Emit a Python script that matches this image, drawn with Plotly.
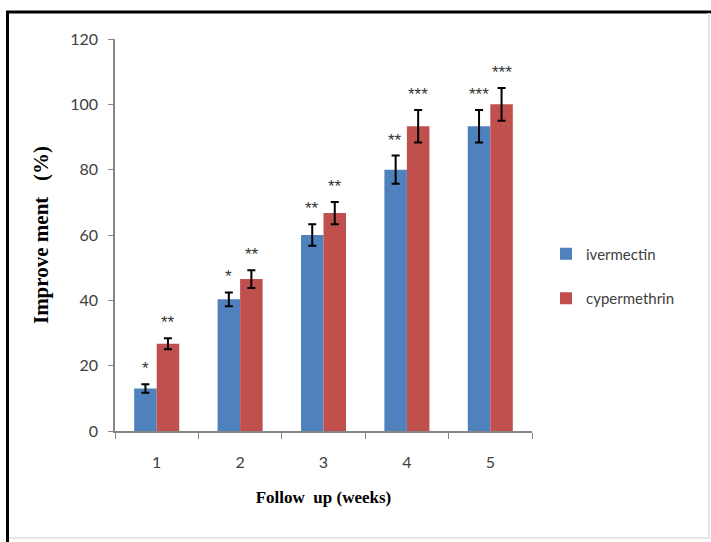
import plotly.graph_objects as go

weeks = ["1", "2", "3", "4", "5"]
ivermectin = [13.0, 40.3, 60.0, 80.0, 93.3]
ivermectin_err = [1.3, 2.1, 3.3, 4.3, 5.0]
cypermethrin = [26.7, 46.5, 66.7, 93.3, 100.0]
cypermethrin_err = [1.7, 2.7, 3.4, 5.0, 5.0]
iver_sig = ["*", "*", "**", "**", "***"]
cyper_sig = ["**", "**", "**", "***", "***"]

BLUE = "#4F81BD"
RED = "#C0504D"

W, H = 711, 542
L, R, T, B = 115, 179, 39, 111
PW, PH = W - L - R, H - T - B

def px_x(px):
    return (px - L) / PW

def px_y(py):
    return (H - B - py) / PH

fig = go.Figure()
fig.add_trace(go.Bar(
    x=weeks, y=ivermectin, name="ivermectin", marker_color=BLUE,
    marker_line_width=0, legendgroup="a",
    error_y=dict(type="data", array=ivermectin_err, visible=True,
                 color="black", thickness=2, width=4),
))
fig.add_trace(go.Bar(
    x=weeks, y=cypermethrin, name="cypermethrin", marker_color=RED,
    marker_line_width=0, legendgroup="b",
    error_y=dict(type="data", array=cypermethrin_err, visible=True,
                 color="black", thickness=2, width=4),
))

annotations = []
for i, w in enumerate(weeks):
    for vals, errs, sig, shift in ((ivermectin, ivermectin_err, iver_sig, -11.5),
                                   (cypermethrin, cypermethrin_err, cyper_sig, 11.5)):
        annotations.append(dict(
            x=i, y=vals[i] + errs[i], text=sig[i], showarrow=False,
            xshift=shift, yanchor="bottom", yshift=4,
            font=dict(family="Liberation Sans", size=17, color="#333333"),
        ))

shapes = [
    dict(type="line", xref="paper", yref="paper", x0=px_x(6), x1=px_x(711),
         y0=px_y(12), y1=px_y(12), line=dict(color="black", width=3)),
    dict(type="line", xref="paper", yref="paper", x0=px_x(7.5), x1=px_x(7.5),
         y0=px_y(11), y1=px_y(542), line=dict(color="black", width=3)),
    dict(type="line", xref="paper", yref="paper", x0=px_x(709), x1=px_x(709),
         y0=px_y(13), y1=px_y(539), line=dict(color="#e6e6e6", width=2)),
    dict(type="line", xref="paper", yref="paper", x0=px_x(9), x1=px_x(709),
         y0=px_y(538), y1=px_y(538), line=dict(color="#e6e6e6", width=2)),
]

fig.update_layout(
    width=W, height=H,
    margin=dict(l=L, r=R, t=T, b=B, pad=0),
    paper_bgcolor="white", plot_bgcolor="white",
    barmode="group", bargap=0.46, bargroupgap=0,
    showlegend=True,
    legend=dict(x=px_x(546), xanchor="left", y=px_y(276), yanchor="middle",
                font=dict(family="Lato", size=15, color="#404040"),
                tracegroupgap=22, itemwidth=30, bgcolor="rgba(0,0,0,0)"),
    annotations=annotations,
    shapes=shapes,
    font=dict(family="Lato", color="#404040"),
)
fig.update_yaxes(
    range=[0, 120], dtick=20, showgrid=False, zeroline=False,
    showline=True, linecolor="#868686", linewidth=1.5,
    ticks="outside", ticklen=5, tickcolor="#868686", ticklabelstandoff=7,
    tickfont=dict(family="Lato", size=16, color="#404040"),
    title=dict(text="Improve ment\u00a0\u00a0 (%)", standoff=16,
               font=dict(family="Liberation Serif", size=21, color="black",
                         weight="bold")),
)
fig.update_xaxes(
    type="category", range=[-0.5, 4.5],
    showgrid=False, showline=True, linecolor="#868686", linewidth=1.5,
    ticks="outside", ticklen=6, tickcolor="#868686", tickson="boundaries",
    ticklabelstandoff=16,
    tickfont=dict(family="Lato", size=16, color="#404040"),
    title=dict(text="Follow\u00a0 up (weeks)", standoff=21,
               font=dict(family="Liberation Serif", size=17, color="black",
                         weight="bold")),
)

fig.write_html("out.html", config={"displayModeBar": False},
               post_script="document.body.style.margin='0';")
